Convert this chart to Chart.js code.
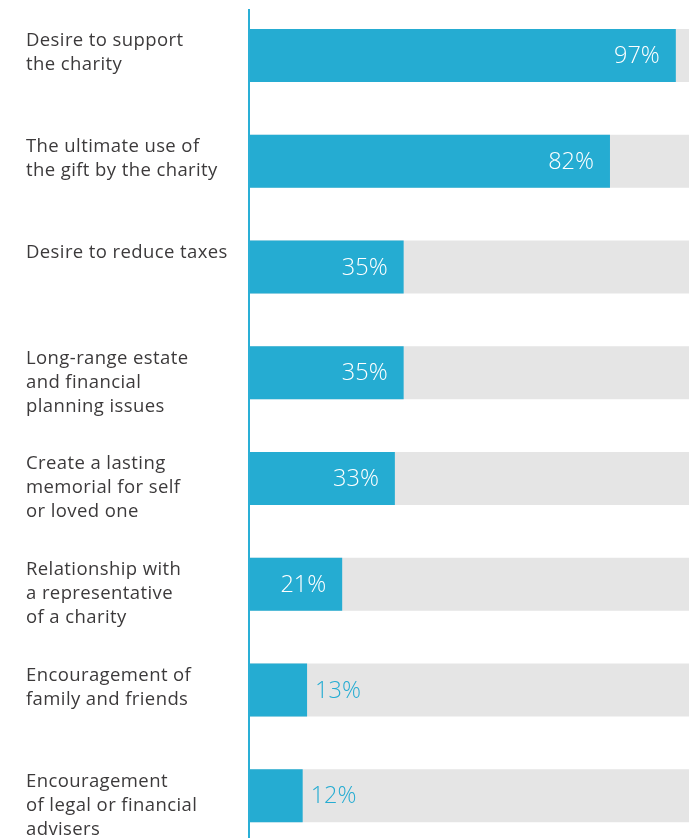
<!DOCTYPE html>
<html>
<head>
<meta charset="utf-8">
<script src="https://cdn.jsdelivr.net/npm/chart.js@4"></script>
<style>
html,body{margin:0;padding:0;background:#fff;overflow:hidden;}
#wrap{position:absolute;left:0;top:0;width:693px;height:850px;}
</style>
</head>
<body>
<div id="wrap"><canvas id="c" width="693" height="850"></canvas></div>
<script>
const categories = [
  ["Desire to support", "the charity"],
  ["The ultimate use of", "the gift by the charity"],
  ["Desire to reduce taxes"],
  ["Long-range estate", "and financial", "planning issues"],
  ["Create a lasting", "memorial for self", "or loved one"],
  ["Relationship with", "a representative", "of a charity"],
  ["Encouragement of", "family and friends"],
  ["Encouragement", "of legal or financial", "advisers"]
];
const values = [97, 82, 35, 35, 33, 21, 13, 12];
const fullScale = [100, 100, 100, 100, 100, 100, 100, 100];

const BLUE = '#25ACD2';
const GRAY = '#E5E5E5';
const TEXT = '#3C3A3B';
const FONT = '"Open Sans", Lato, sans-serif';

const labelPlugin = {
  id: 'customLabels',
  afterDraw(chart) {
    const ctx = chart.ctx;
    const area = chart.chartArea;
    const meta = chart.getDatasetMeta(0);
    ctx.save();
    ctx.fillStyle = '#2AAFD6';
    ctx.fillRect(area.left - 2, 9, 2, chart.height - 9);
    ctx.fillStyle = TEXT;
    ctx.font = '18.5px ' + FONT;
    ctx.letterSpacing = '0.4px';
    ctx.textAlign = 'left';
    ctx.textBaseline = 'middle';
    meta.data.forEach((bar, i) => {
      const top = bar.y - bar.height / 2;
      categories[i].forEach((line, j) => {
        ctx.fillText(line, 26, top + 12 + j * 24);
      });
    });
    ctx.letterSpacing = '0px';
    ctx.font = '300 23.5px ' + FONT;
    meta.data.forEach((bar, i) => {
      const txt = values[i] + '%';
      if (values[i] >= 15) {
        ctx.fillStyle = '#FFFFFF';
        ctx.textAlign = 'right';
        ctx.fillText(txt, bar.x - 16, bar.y + 1);
      } else {
        ctx.fillStyle = BLUE;
        ctx.textAlign = 'left';
        ctx.fillText(txt, bar.x + 8, bar.y + 1);
      }
    });
    ctx.restore();
  }
};

new Chart(document.getElementById('c'), {
  type: 'bar',
  data: {
    labels: categories,
    datasets: [
      { data: values, backgroundColor: BLUE, order: 1, grouped: false,
        categoryPercentage: 0.5, barPercentage: 1 },
      { data: fullScale, backgroundColor: GRAY, order: 2, grouped: false,
        categoryPercentage: 0.5, barPercentage: 1 }
    ]
  },
  options: {
    indexAxis: 'y',
    responsive: false,
    animation: false,
    devicePixelRatio: 1,
    layout: { padding: { left: 250, right: 4, top: 2.6, bottom: 1.4 } },
    plugins: { legend: { display: false }, tooltip: { enabled: false } },
    scales: {
      x: { display: false, min: 0, max: 100 },
      y: { display: false }
    }
  },
  plugins: [labelPlugin]
});
</script>
</body>
</html>
